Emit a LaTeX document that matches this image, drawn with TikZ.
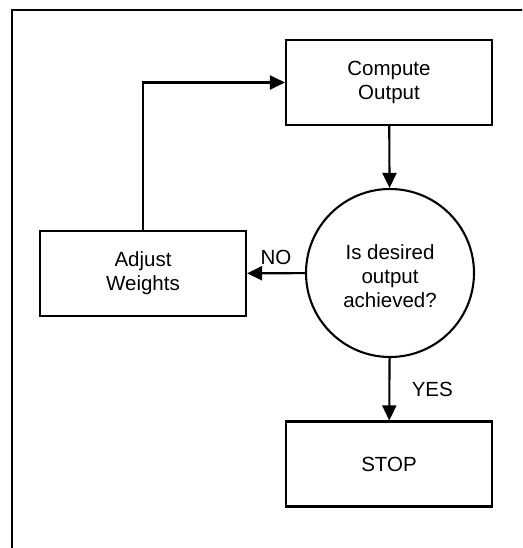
\documentclass[tikz,border=0pt]{standalone}
\usepackage{fontspec}
\setmainfont{Liberation Sans}
\usetikzlibrary{arrows.meta}

\begin{document}
\begin{tikzpicture}[x=1pt,y=-1pt,->,>={Triangle[length=15pt,width=14pt]},
  line width=2.1pt,auto,
  box node/.style={rectangle,draw,minimum width=206pt,minimum height=85pt,
    align=center,font=\fontsize{20.5}{24}\selectfont},
  test node/.style={circle,draw,minimum size=168pt,inner sep=0pt,
    align=center,font=\fontsize{20.5}{24}\selectfont}]

  \useasboundingbox (0,0) rectangle (522,548);
  \clip (0,0) rectangle (522,548);
  \draw[-] (12,10) rectangle (560,580);

  \node[box node] (compute) at (389,82.5) {Compute\\Output};
  \node[test node] (test) at (390,273) {\rule{0pt}{22pt}Is desired\\output\\achieved?};
  \node[box node] (adjust) at (143,273.5) {Adjust\\Weights};
  \node[box node] (stop) at (389,464) {STOP};

  \path[every node/.style={font=\fontsize{20.5}{24}\selectfont}]
    (compute) edge (test)
    (test) edge node [above=4pt] {NO} (adjust)
    (test) edge node [right=18pt] {YES} (stop);
  \draw (adjust.north) |- (compute.west);
\end{tikzpicture}
\end{document}
